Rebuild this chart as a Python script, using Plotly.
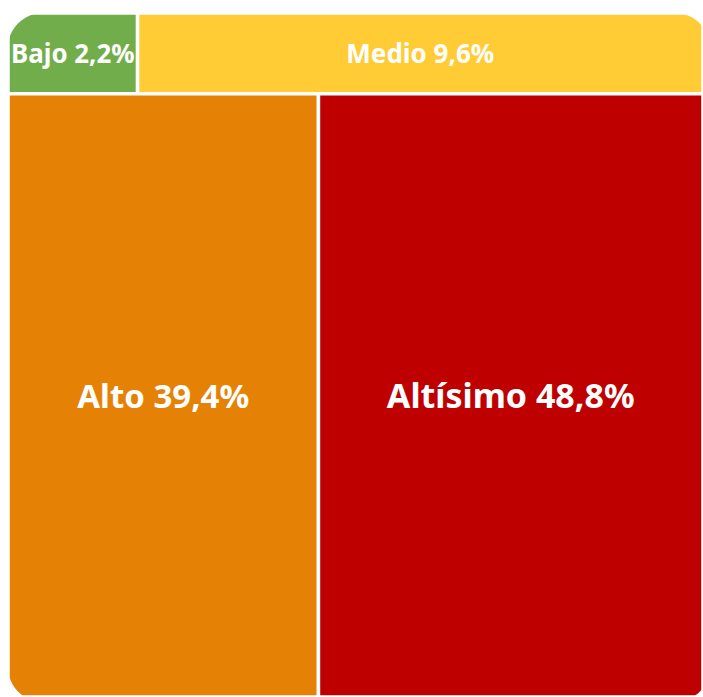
import plotly.graph_objects as go

# ---- data ----
categorias = ["Bajo", "Medio", "Alto", "Altísimo"]
porcentajes = [2.2, 9.6, 39.4, 48.8]
filas = ["fila_superior", "fila_superior", "fila_inferior", "fila_inferior"]
colores = ["#72AD4B", "#FFCC36", "#E58206", "#BE0000"]
tamanos_texto = [26, 26, 33, 34]

# ---- build treemap table ----
grupos = list(dict.fromkeys(filas))
ids = grupos + categorias
labels = [""] * len(grupos) + categorias
parents = [""] * len(grupos) + filas
values = [0] * len(grupos) + porcentajes
texts = [""] * len(grupos) + [f"{v:.1f}".replace(".", ",") + "%" for v in porcentajes]
templates = [""] * len(grupos) + ["<b>%{label} %{text}</b>"] * len(categorias)
marker_colors = ["rgba(255,255,255,0)"] * len(grupos) + colores
font_sizes = [10] * len(grupos) + tamanos_texto

fig = go.Figure(
    go.Treemap(
        ids=ids,
        labels=labels,
        parents=parents,
        values=values,
        text=texts,
        texttemplate=templates,
        textposition="middle center",
        textfont=dict(family="Noto Sans", color="white", size=font_sizes),
        marker=dict(
            colors=marker_colors,
            line=dict(color="white", width=3.5),
            pad=dict(t=0, l=0, r=0, b=0),
        ),
        tiling=dict(packing="dice-slice", pad=0),
        pathbar=dict(visible=False),
        sort=False,
        hoverinfo="skip",
    )
)

# page / plot-area geometry
W, H = 703, 697
ml, mt, mr, mb = 8, 13, 0, 0
pw, ph = W - ml - mr, H - mt - mb
# the rounded frame runs a few pixels past the right and bottom page edge
ex = 7 / pw
ey = 5 / ph
rx = 35 / pw
ry = 35 / ph
k = 0.5523
corners = [(0, 1, 1, -1), (1 + ex, 1, -1, -1), (0, -ey, 1, 1), (1 + ex, -ey, -1, 1)]
shapes = []
for cx, cy, sx, sy in corners:
    p0 = (cx + sx * rx, cy)
    c1 = (cx + sx * rx * (1 - k), cy)
    c2 = (cx, cy + sy * ry * (1 - k))
    p1 = (cx, cy + sy * ry)
    path = (f"M {cx},{cy} L {p0[0]},{p0[1]} C {c1[0]},{c1[1]} {c2[0]},{c2[1]} "
            f"{p1[0]},{p1[1]} Z")
    shapes.append(dict(type="path", path=path, xref="paper", yref="paper",
                       fillcolor="white", line=dict(width=0), layer="above"))

fig.update_layout(
    width=W,
    height=H,
    margin=dict(l=ml, r=mr, t=mt, b=mb, autoexpand=False),
    paper_bgcolor="white",
    plot_bgcolor="white",
    shapes=shapes,
    showlegend=False,
)

fig.write_html(
    "out.html",
    config={"displayModeBar": False},
    post_script=(
        "document.body.style.margin='0';"
        "document.body.style.overflow='hidden';"
        "document.documentElement.style.overflow='hidden';"
    ),
)
